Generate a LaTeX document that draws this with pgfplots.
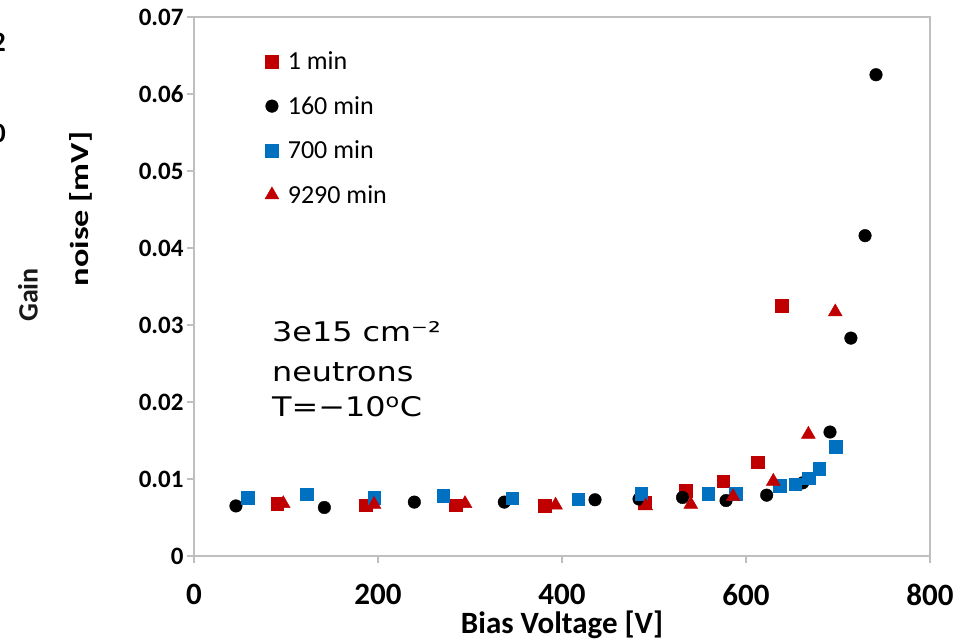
\documentclass[border=0pt]{standalone}
\usepackage{pgfplots}
\pgfplotsset{compat=1.18}
\usepackage{fontspec}
\setmainfont{Carlito}
\newfontfamily\annotfont{DejaVu Sans}
\definecolor{cred}{HTML}{C00000}
\definecolor{cblue}{HTML}{0070C0}
\definecolor{axgray}{HTML}{BFBFBF}

\pgfplotstableread{
x y
90.6 0.0068
186.6 0.0066
284.5 0.0066
381.5 0.0065
490.0 0.0069
534.4 0.0085
575.4 0.0097
612.4 0.0122
638.8 0.0325
}\tabA
\pgfplotstableread{
x y
45.6 0.0065
141.7 0.0063
239.5 0.0070
337.3 0.0070
435.9 0.0073
483.7 0.0074
531.0 0.0076
578.3 0.0072
622.5 0.0079
661.6 0.0095
691.3 0.0161
714.0 0.0283
729.4 0.0416
741.3 0.0625
}\tabB
\pgfplotstableread{
x y
58.3 0.0076
122.5 0.0080
195.7 0.0076
271.0 0.0078
346.0 0.0075
417.5 0.0074
485.9 0.0081
559.0 0.0081
589.0 0.0081
636.3 0.0091
653.6 0.0093
668.2 0.0101
679.4 0.0113
697.5 0.0142
}\tabC
\pgfplotstableread{
x y
97.0 0.0068
195.7 0.0067
294.6 0.0068
393.0 0.0066
491.0 0.0065
540.0 0.0067
586.0 0.0077
629.7 0.0097
667.8 0.0158
697.0 0.0317
}\tabD

\begin{document}
\begin{tikzpicture}
\path[use as bounding box] (0,0) rectangle (959pt,642pt);
\begin{axis}[
  at={(194pt,86pt)}, anchor=south west,
  scale only axis, width=736pt, height=539pt,
  xmin=0, xmax=800, ymin=0, ymax=0.07,
  xtick={0,200,400,600,800},
  ytick={0,0.01,0.02,0.03,0.04,0.05,0.06,0.07},
  yticklabels={0,0.01,0.02,0.03,0.04,0.05,0.06,0.07},
  scaled y ticks=false, scaled x ticks=false,
  xtick pos=lower, ytick pos=left,
  axis line style={axgray, line width=1.2pt},
  tick style={axgray, line width=1.2pt},
  major tick length=7pt, tick align=outside,
  /pgf/number format/assume math mode=true,
  xticklabel style={font=\fontsize{31}{31}\selectfont\bfseries, inner sep=0pt, yshift=-21pt},
  yticklabel style={font=\fontsize{25}{25}\selectfont\bfseries},
  clip=false,
  legend style={at={(0.0965,0.935)}, anchor=north west, draw=none, fill=none,
    inner sep=0pt, outer sep=0pt, row sep=25pt,
    font=\fontsize{26}{26}\selectfont,
    nodes={inner sep=0pt},
    /tikz/every odd column/.append style={column sep=9pt}},
  legend cell align=left,
  legend image code/.code={\draw[#1] plot coordinates {(0pt,0pt)};},
]
\addplot[only marks, mark=square*, mark size=6.3pt, color=cred] table {\tabA};
\addlegendentry{1 min}
\addplot[only marks, mark=*, mark size=6.3pt, color=black] table {\tabB};
\addlegendentry{160 min}
\addplot[only marks, mark=square*, mark size=6.3pt, color=cblue] table {\tabC};
\addlegendentry{700 min}
\addplot[only marks, mark=triangle*, mark size=8pt, color=cred] table {\tabD};
\addlegendentry{9290 min}
\end{axis}
% axis labels
\node[rotate=90, font=\fontsize{26}{26}\selectfont\bfseries, inner sep=0pt] at (81pt,433pt) {\scalebox{1.32}[1]{noise [mV]}};
\node[anchor=base, font=\fontsize{31}{31}\selectfont\bfseries, inner sep=0pt] at (562pt,8pt) {Bias Voltage [V]};
% annotation
\node[anchor=base west, inner sep=0pt, font=\annotfont\fontsize{27}{27}\selectfont] at (272pt,300.3pt) {\scalebox{1.18}[1]{3e15 cm⁻²}};
\node[anchor=base west, inner sep=0pt, font=\annotfont\fontsize{27}{27}\selectfont] at (272pt,260.3pt) {\scalebox{1.18}[1]{neutrons}};
\node[anchor=base west, inner sep=0pt, font=\annotfont\fontsize{27}{27}\selectfont] at (272pt,225.3pt) {\scalebox{1.18}[1]{T=−10\textsuperscript{o}C}};
% cropped remnants of a neighbouring chart
\node[rotate=90, font=\fontsize{28}{28}\selectfont\bfseries, inner sep=0pt, text=black!90] at (28pt,347pt) {Gain};
\node[anchor=base east, font=\fontsize{28}{28}\selectfont\bfseries, inner sep=0pt] at (6pt,590pt) {2};
\node[anchor=base east, font=\fontsize{28}{28}\selectfont\bfseries, inner sep=0pt] at (6pt,499pt) {0};
\end{tikzpicture}
\end{document}
